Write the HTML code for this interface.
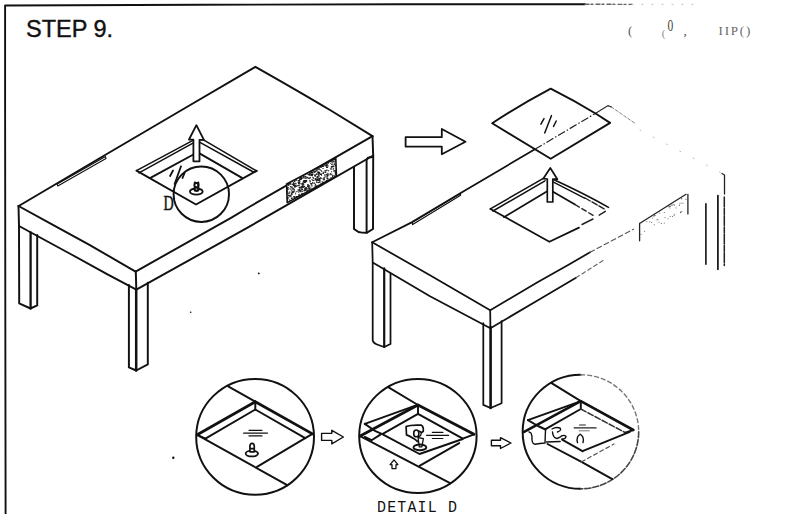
<!DOCTYPE html>
<html><head><meta charset="utf-8">
<style>
html,body{margin:0;padding:0;background:#fff;width:787px;height:514px;overflow:hidden}
svg{display:block;position:absolute;left:0;top:0}
.t{font-family:"Liberation Sans",sans-serif}
</style></head><body>
<svg width="787" height="514" viewBox="0 0 787 514">

<!-- border -->
<g fill="none" stroke="#111" stroke-width="1.6" stroke-linecap="round" stroke-linejoin="round">
<polyline points="5.6,514 5.3,300 5.1,100 5.1,5.5 200,4.8 400,4.3 585,4.2" stroke-width="1.9"/>
<polyline points="585,4.2 632,4.4" stroke="#666" stroke-width="1.4" stroke-dasharray="4 2 2 3"/><polyline points="632,4.4 700,4.4" stroke="#bbb" stroke-width="1" stroke-dasharray="1 9"/>
</g>
<text x="26" y="37.2" class="t" font-size="23.5" fill="#111" stroke="#111" stroke-width="0.4">STEP 9.</text>

<!-- LEFT TABLE -->
<g fill="none" stroke="#111" stroke-width="1.95" stroke-linecap="round" stroke-linejoin="round">
<!-- top surface -->
<path d="M18.7,206 L100,158 L180,111 L255.4,66.8 Q300,92 330,110 L372.5,136.2"/>
<path d="M18.5,206 L52,224.3 L89,244.6 L135.6,271.6"/>
<path d="M135.6,271.6 L231,217.8 L250,206.5 L372.5,136.2"/>
<!-- slab -->
<path d="M18.5,206 L19,226 L70.5,254 L107.5,274.3 L136.3,289.6 L135.8,271.6"/>
<path d="M136.3,289.6 L246.7,228.2 L265.4,217.4 L373.2,155.5 L372.5,136.2"/>
<!-- left leg -->
<path d="M19,226 L19.2,303.4 L30.5,308.5 L37.2,305.4 L37.2,235"/>
<path d="M30.6,232.3 L30.6,308.5" stroke-width="2.3"/>
<!-- front leg -->
<path d="M128.9,285 L128.9,367.4 L136.2,370.5 L147.8,364.4 L147.8,282.6"/>
<path d="M136.2,289 L136.2,370.5" stroke-width="2.5"/>
<!-- right leg -->
<path d="M354,167.3 L354,229 Q358,232.5 362,232.6 L366.6,232.8 L373,229 L373.2,155.5"/>
<path d="M366.6,159.8 L366.6,232.8 M366.6,160 L368,157.6 L372.5,157"/>
<!-- slot -->
<path d="M57.2,184 L105.5,156.6 L106,158.6 L57.8,186 Z" stroke-width="1.1"/>
<!-- hole -->
<path d="M136.5,170.7 L196,204.5 L256.7,170.8"/>
<path d="M136.5,170.7 L193.4,140.2 M139,172.9 L193.4,142.8" stroke-width="1.5"/><path d="M150.9,177.6 L193.4,154.5"/>
<path d="M199.5,139.6 L203.5,139.8 L256.6,170.9 M199.5,142.2 L253.4,172" stroke-width="1.5"/><path d="M199.5,153.4 L242,177.9"/>
<!-- circle D -->
<circle cx="201.3" cy="194.2" r="27.7"/>
<ellipse cx="196.3" cy="191.6" rx="6.4" ry="3.1" stroke-width="1.8"/>
<path d="M194,182 L195,181.3 L196,182 L197.3,182 L198.4,181.3 L199.2,182.2 Q200,185 199.3,187 Q200.2,189 199,191.3 Q196.5,192.5 194,191.3 Q192.9,189 193.8,187 Q192.9,185 194,182 Z" fill="#111" stroke="none"/>
<ellipse cx="196.3" cy="185.1" rx="1" ry="1.2" fill="#fff" stroke="none"/>
<ellipse cx="196.5" cy="189" rx="0.8" ry="0.6" fill="#fff" stroke="none"/>
<path d="M170.1,176 L173,170.5 M174.6,184 L181,166.3 M184.6,172.8 L182.5,178" stroke-width="1.8"/>
</g>
<text transform="translate(163.5,209.7) scale(0.66,1)" font-family="Liberation Serif" font-size="21.4" fill="#111" stroke="#111" stroke-width="0.5">D</text>
<!-- velcro left -->
<clipPath id="vel"><path d="M286.6,184 L335.8,158.2 L336.4,176 L287.2,202.6 Z"/></clipPath><path d="M286.6,184 L335.8,158.2 L336.4,176 L287.2,202.6 Z" fill="#fff"/><g clip-path="url(#vel)" fill="#1a1a1a"><rect x="302.2" y="178.0" width="0.8" height="0.8"/><rect x="326.1" y="164.1" width="2.0" height="0.8"/><rect x="331.1" y="163.6" width="0.8" height="1.5"/><rect x="306.3" y="176.9" width="2.0" height="1.5"/><rect x="289.3" y="192.6" width="1.0" height="0.8"/><rect x="314.7" y="175.9" width="1.0" height="0.8"/><rect x="313.3" y="171.6" width="1.5" height="1.0"/><rect x="312.5" y="179.9" width="2.0" height="1.0"/><rect x="291.5" y="191.3" width="1.0" height="1.2"/><rect x="290.8" y="194.3" width="2.0" height="0.8"/><rect x="316.4" y="176.3" width="2.0" height="1.5"/><rect x="324.4" y="171.7" width="1.5" height="1.2"/><rect x="301.3" y="190.5" width="1.0" height="0.8"/><rect x="314.6" y="178.0" width="1.2" height="1.5"/><rect x="301.0" y="193.8" width="0.8" height="1.5"/><rect x="294.2" y="185.3" width="1.5" height="1.5"/><rect x="287.9" y="194.8" width="2.0" height="1.2"/><rect x="302.8" y="180.9" width="1.5" height="1.5"/><rect x="289.4" y="183.2" width="1.2" height="1.5"/><rect x="320.3" y="166.4" width="1.2" height="1.5"/><rect x="300.2" y="183.3" width="1.2" height="0.8"/><rect x="332.1" y="165.7" width="2.0" height="0.8"/><rect x="310.4" y="174.7" width="1.2" height="1.0"/><rect x="322.4" y="171.7" width="1.5" height="0.8"/><rect x="294.4" y="186.6" width="1.2" height="1.0"/><rect x="326.8" y="177.6" width="1.2" height="1.5"/><rect x="334.8" y="170.2" width="1.5" height="1.0"/><rect x="293.6" y="182.9" width="1.0" height="1.0"/><rect x="287.2" y="198.5" width="1.0" height="1.2"/><rect x="299.6" y="178.8" width="2.0" height="1.2"/><rect x="316.3" y="173.6" width="1.0" height="0.8"/><rect x="308.6" y="187.4" width="2.0" height="1.5"/><rect x="305.7" y="180.2" width="1.5" height="1.5"/><rect x="289.2" y="182.9" width="1.0" height="1.5"/><rect x="294.4" y="185.7" width="0.8" height="0.8"/><rect x="286.3" y="186.2" width="0.8" height="1.2"/><rect x="316.3" y="168.7" width="1.0" height="1.5"/><rect x="293.5" y="184.2" width="1.2" height="1.2"/><rect x="309.2" y="173.1" width="1.5" height="1.5"/><rect x="309.9" y="176.9" width="1.0" height="0.8"/><rect x="323.2" y="177.5" width="1.5" height="1.0"/><rect x="311.1" y="173.8" width="2.0" height="1.2"/><rect x="293.7" y="189.7" width="0.8" height="1.2"/><rect x="334.7" y="173.5" width="1.2" height="1.2"/><rect x="331.0" y="166.3" width="1.0" height="1.2"/><rect x="317.8" y="178.2" width="1.0" height="1.0"/><rect x="326.8" y="175.7" width="1.0" height="1.0"/><rect x="311.9" y="176.7" width="0.8" height="0.8"/><rect x="325.3" y="171.5" width="1.0" height="1.2"/><rect x="308.6" y="189.0" width="1.2" height="1.2"/><rect x="289.9" y="183.3" width="1.5" height="1.0"/><rect x="302.5" y="183.7" width="2.0" height="0.8"/><rect x="310.2" y="183.1" width="0.8" height="0.8"/><rect x="331.3" y="173.8" width="1.0" height="1.5"/><rect x="330.0" y="168.4" width="1.2" height="0.8"/><rect x="325.8" y="180.0" width="1.5" height="1.5"/><rect x="306.4" y="190.5" width="1.0" height="1.0"/><rect x="334.5" y="158.1" width="2.0" height="1.5"/><rect x="325.4" y="165.1" width="2.0" height="1.5"/><rect x="318.1" y="172.9" width="2.0" height="1.0"/><rect x="287.7" y="197.8" width="0.8" height="1.0"/><rect x="308.0" y="188.3" width="1.0" height="0.8"/><rect x="298.7" y="182.3" width="1.0" height="1.2"/><rect x="299.1" y="184.6" width="1.0" height="0.8"/><rect x="330.8" y="166.1" width="1.5" height="1.5"/><rect x="327.3" y="177.9" width="1.0" height="1.0"/><rect x="311.6" y="170.3" width="1.5" height="1.0"/><rect x="316.5" y="181.9" width="1.0" height="1.0"/><rect x="293.5" y="191.4" width="0.8" height="0.8"/><rect x="301.9" y="184.3" width="2.0" height="1.5"/><rect x="324.2" y="165.3" width="2.0" height="0.8"/><rect x="298.6" y="181.9" width="0.8" height="1.5"/><rect x="314.3" y="182.6" width="0.8" height="1.5"/><rect x="302.2" y="193.0" width="2.0" height="1.0"/><rect x="320.0" y="173.5" width="2.0" height="1.5"/><rect x="310.7" y="174.8" width="2.0" height="1.2"/><rect x="332.0" y="175.4" width="1.0" height="1.5"/><rect x="292.7" y="182.1" width="1.5" height="1.2"/><rect x="289.9" y="186.1" width="0.8" height="1.0"/><rect x="319.5" y="180.3" width="1.0" height="1.2"/><rect x="293.4" y="196.1" width="1.5" height="1.0"/><rect x="322.6" y="165.9" width="1.5" height="1.0"/><rect x="335.3" y="172.5" width="1.0" height="1.5"/><rect x="335.0" y="165.0" width="1.5" height="1.0"/><rect x="303.6" y="176.1" width="1.2" height="0.8"/><rect x="303.1" y="182.9" width="0.8" height="1.5"/><rect x="302.3" y="186.5" width="2.0" height="0.8"/><rect x="292.2" y="197.7" width="1.0" height="0.8"/><rect x="290.4" y="186.3" width="1.0" height="1.2"/><rect x="323.7" y="178.5" width="1.2" height="1.5"/><rect x="293.5" y="196.4" width="2.0" height="1.5"/><rect x="320.7" y="167.0" width="0.8" height="1.0"/><rect x="307.2" y="173.9" width="0.8" height="0.8"/><rect x="325.6" y="164.4" width="1.0" height="0.8"/><rect x="299.3" y="178.8" width="0.8" height="1.2"/><rect x="335.2" y="165.3" width="1.2" height="1.0"/><rect x="288.8" y="195.6" width="0.8" height="1.0"/><rect x="299.0" y="180.0" width="1.2" height="1.2"/><rect x="312.1" y="173.5" width="1.5" height="1.0"/><rect x="299.8" y="191.4" width="1.2" height="0.8"/><rect x="286.8" y="196.7" width="2.0" height="1.0"/><rect x="311.3" y="174.8" width="1.5" height="0.8"/><rect x="318.6" y="178.0" width="1.5" height="1.5"/><rect x="334.0" y="164.0" width="1.0" height="1.0"/><rect x="303.5" y="189.7" width="1.0" height="1.5"/><rect x="335.4" y="175.6" width="1.0" height="0.8"/><rect x="289.9" y="195.2" width="1.2" height="1.5"/><rect x="293.9" y="180.7" width="1.5" height="1.2"/><rect x="316.1" y="180.4" width="0.8" height="1.5"/><rect x="295.5" y="183.6" width="0.8" height="1.2"/><rect x="303.7" y="180.0" width="2.0" height="1.2"/><rect x="298.6" y="195.0" width="1.2" height="1.0"/><rect x="303.4" y="174.4" width="1.5" height="0.8"/><rect x="309.8" y="180.4" width="1.0" height="1.0"/><rect x="310.8" y="170.7" width="1.2" height="0.8"/><rect x="293.3" y="190.7" width="1.5" height="0.8"/><rect x="301.3" y="187.3" width="0.8" height="1.0"/><rect x="318.4" y="179.2" width="2.0" height="1.5"/><rect x="323.9" y="176.7" width="1.5" height="1.0"/><rect x="300.5" y="187.6" width="1.0" height="0.8"/><rect x="326.6" y="174.8" width="2.0" height="1.5"/><rect x="322.7" y="179.3" width="1.0" height="0.8"/><rect x="327.1" y="172.8" width="1.0" height="0.8"/><rect x="287.6" y="185.3" width="1.2" height="0.8"/><rect x="305.0" y="182.1" width="0.8" height="0.8"/><rect x="317.1" y="179.6" width="1.5" height="1.2"/><rect x="286.2" y="198.3" width="2.0" height="0.8"/><rect x="318.3" y="167.6" width="1.5" height="1.2"/><rect x="326.4" y="177.8" width="1.0" height="1.0"/><rect x="297.6" y="189.3" width="1.5" height="1.5"/><rect x="327.6" y="163.2" width="1.2" height="0.8"/><rect x="316.9" y="179.2" width="0.8" height="1.0"/><rect x="302.7" y="186.9" width="1.2" height="1.0"/><rect x="286.6" y="184.4" width="1.2" height="0.8"/><rect x="320.5" y="177.7" width="1.2" height="1.2"/><rect x="309.3" y="180.0" width="0.8" height="1.0"/><rect x="301.2" y="177.1" width="1.5" height="0.8"/><rect x="299.9" y="177.2" width="2.0" height="1.5"/><rect x="335.2" y="164.8" width="1.0" height="0.8"/><rect x="314.3" y="171.0" width="2.0" height="1.2"/><rect x="332.6" y="161.2" width="2.0" height="1.2"/><rect x="330.2" y="173.0" width="1.0" height="1.5"/><rect x="330.7" y="169.0" width="0.8" height="1.0"/><rect x="286.3" y="192.3" width="1.5" height="1.5"/><rect x="300.9" y="178.0" width="1.2" height="1.5"/><rect x="302.3" y="190.7" width="0.8" height="1.2"/><rect x="323.6" y="179.2" width="0.8" height="1.0"/><rect x="321.6" y="181.3" width="1.2" height="1.2"/><rect x="304.1" y="181.2" width="2.0" height="0.8"/><rect x="304.0" y="182.1" width="1.2" height="0.8"/><rect x="299.8" y="177.2" width="1.2" height="1.0"/><rect x="298.0" y="181.9" width="2.0" height="1.2"/><rect x="295.4" y="185.6" width="1.5" height="0.8"/><rect x="325.9" y="173.9" width="2.0" height="1.0"/><rect x="321.3" y="165.6" width="1.5" height="1.5"/><rect x="316.3" y="169.9" width="1.2" height="1.5"/><rect x="289.1" y="199.4" width="1.0" height="1.0"/><rect x="309.4" y="177.5" width="1.2" height="1.2"/><rect x="322.9" y="181.8" width="1.2" height="1.5"/><rect x="318.1" y="171.8" width="2.0" height="1.5"/><rect x="292.5" y="192.3" width="0.8" height="1.0"/><rect x="310.7" y="185.4" width="2.0" height="1.0"/><rect x="308.3" y="177.6" width="1.5" height="1.5"/><rect x="293.2" y="183.5" width="0.8" height="1.0"/><rect x="303.0" y="176.2" width="1.0" height="1.2"/><rect x="299.3" y="187.1" width="0.8" height="1.5"/><rect x="305.4" y="187.0" width="1.0" height="1.5"/><rect x="299.6" y="190.3" width="1.5" height="1.2"/><rect x="314.1" y="175.2" width="2.0" height="1.0"/><rect x="290.9" y="197.5" width="1.5" height="1.5"/><rect x="318.0" y="174.7" width="1.2" height="0.8"/><rect x="292.4" y="187.8" width="1.5" height="1.5"/><rect x="285.8" y="190.5" width="2.0" height="1.5"/><rect x="334.2" y="162.8" width="0.8" height="1.0"/><rect x="294.1" y="188.9" width="0.8" height="1.5"/><rect x="290.8" y="195.7" width="0.8" height="1.0"/><rect x="298.0" y="194.4" width="1.2" height="1.0"/><rect x="317.0" y="177.0" width="1.5" height="0.8"/><rect x="290.7" y="186.5" width="2.0" height="1.0"/><rect x="304.8" y="177.7" width="2.0" height="0.8"/><rect x="286.5" y="188.7" width="1.5" height="1.2"/><rect x="333.7" y="170.0" width="1.0" height="1.5"/><rect x="312.4" y="179.6" width="0.8" height="1.5"/><rect x="321.1" y="170.9" width="0.8" height="1.0"/><rect x="310.8" y="183.0" width="1.5" height="0.8"/><rect x="299.1" y="189.1" width="1.2" height="1.0"/><rect x="310.5" y="183.3" width="1.5" height="1.2"/><rect x="319.7" y="169.6" width="1.2" height="0.8"/><rect x="296.7" y="196.1" width="1.2" height="1.0"/><rect x="297.5" y="181.7" width="1.2" height="0.8"/><rect x="333.2" y="167.8" width="1.0" height="1.0"/><rect x="310.6" y="187.6" width="0.8" height="1.0"/><rect x="331.6" y="160.7" width="0.8" height="1.0"/><rect x="307.0" y="185.5" width="1.0" height="1.5"/><rect x="308.5" y="185.0" width="1.2" height="0.8"/><rect x="335.6" y="174.3" width="1.2" height="1.0"/><rect x="295.5" y="196.1" width="1.5" height="0.8"/><rect x="301.8" y="188.7" width="1.2" height="1.2"/><rect x="308.0" y="174.0" width="0.8" height="1.2"/><rect x="290.4" y="189.2" width="0.8" height="1.0"/><rect x="305.2" y="187.5" width="1.2" height="1.5"/><rect x="290.8" y="194.2" width="1.0" height="1.2"/><rect x="312.9" y="177.5" width="1.2" height="1.2"/><rect x="322.4" y="173.0" width="1.5" height="1.0"/><rect x="326.6" y="176.1" width="0.8" height="1.5"/><rect x="288.0" y="183.7" width="0.8" height="1.2"/><rect x="295.2" y="179.5" width="2.0" height="1.2"/><rect x="303.7" y="180.4" width="2.0" height="0.8"/><rect x="299.3" y="189.8" width="1.2" height="1.2"/><rect x="300.7" y="189.2" width="2.0" height="0.8"/><rect x="287.2" y="187.0" width="1.5" height="1.5"/><rect x="333.2" y="165.5" width="1.2" height="1.5"/><rect x="326.0" y="164.9" width="1.5" height="1.0"/><rect x="287.0" y="200.6" width="1.2" height="1.0"/><rect x="316.1" y="173.5" width="1.2" height="1.5"/><rect x="304.5" y="188.5" width="0.8" height="1.0"/><rect x="305.2" y="176.4" width="1.5" height="0.8"/><rect x="317.8" y="175.4" width="2.0" height="1.2"/><rect x="294.4" y="187.3" width="0.8" height="0.8"/><rect x="299.3" y="178.0" width="0.8" height="1.5"/><rect x="310.8" y="183.6" width="1.5" height="1.0"/><rect x="297.4" y="185.1" width="2.0" height="1.0"/><rect x="323.5" y="179.3" width="0.8" height="1.2"/><rect x="300.8" y="186.2" width="1.2" height="1.2"/><rect x="322.5" y="168.0" width="1.0" height="1.0"/><rect x="297.8" y="180.0" width="2.0" height="1.0"/><rect x="302.4" y="182.3" width="1.0" height="1.0"/><rect x="317.9" y="168.7" width="1.5" height="0.8"/><rect x="291.4" y="189.4" width="1.0" height="1.5"/><rect x="331.0" y="160.6" width="1.2" height="1.0"/><rect x="291.6" y="183.9" width="2.0" height="1.0"/><rect x="332.1" y="165.9" width="1.0" height="1.5"/><rect x="316.3" y="182.1" width="0.8" height="0.8"/><rect x="317.8" y="179.9" width="1.2" height="1.0"/><rect x="288.2" y="188.8" width="0.8" height="1.0"/><rect x="335.3" y="158.5" width="1.0" height="0.8"/><rect x="326.5" y="169.7" width="1.2" height="1.0"/><rect x="316.8" y="168.6" width="0.8" height="1.5"/><rect x="313.2" y="170.3" width="0.8" height="1.5"/><rect x="318.4" y="169.3" width="2.0" height="0.8"/><rect x="318.4" y="173.6" width="1.2" height="1.5"/><rect x="334.9" y="170.0" width="1.5" height="0.8"/><rect x="301.7" y="185.6" width="1.2" height="1.5"/><rect x="307.0" y="188.5" width="1.2" height="1.0"/><rect x="305.7" y="180.6" width="0.8" height="1.5"/><rect x="330.8" y="167.6" width="0.8" height="1.5"/><rect x="314.7" y="175.2" width="1.0" height="1.0"/><rect x="286.9" y="193.5" width="1.5" height="0.8"/><rect x="314.3" y="185.5" width="2.0" height="1.0"/><rect x="292.9" y="185.0" width="2.0" height="1.0"/><rect x="331.4" y="161.6" width="1.5" height="1.0"/><rect x="301.5" y="190.8" width="0.8" height="1.5"/><rect x="301.7" y="186.6" width="1.5" height="0.8"/><rect x="331.0" y="171.3" width="1.0" height="1.0"/><rect x="317.0" y="178.4" width="1.0" height="1.5"/><rect x="295.0" y="182.8" width="1.5" height="1.0"/><rect x="305.0" y="175.9" width="1.0" height="1.0"/><rect x="288.6" y="192.8" width="0.8" height="1.2"/><rect x="291.8" y="191.5" width="2.0" height="1.2"/><rect x="318.2" y="172.1" width="1.0" height="1.5"/><rect x="305.0" y="179.9" width="2.0" height="1.5"/><rect x="294.6" y="178.7" width="1.5" height="1.5"/><rect x="297.9" y="191.5" width="1.5" height="1.0"/><rect x="326.3" y="169.8" width="0.8" height="1.0"/><rect x="303.7" y="181.0" width="1.5" height="0.8"/><rect x="288.1" y="185.0" width="1.2" height="0.8"/><rect x="288.8" y="191.5" width="1.5" height="1.0"/><rect x="286.9" y="184.2" width="2.0" height="0.8"/><rect x="296.0" y="196.5" width="1.5" height="1.2"/><rect x="333.7" y="175.2" width="1.0" height="1.0"/><rect x="289.4" y="188.3" width="1.2" height="1.0"/><rect x="302.2" y="186.4" width="1.5" height="1.0"/><rect x="298.9" y="194.7" width="1.5" height="1.0"/><rect x="315.6" y="179.3" width="1.0" height="1.2"/><rect x="304.3" y="177.5" width="1.5" height="1.0"/><rect x="317.5" y="171.9" width="1.2" height="1.5"/><rect x="295.0" y="193.7" width="0.8" height="0.8"/><rect x="317.4" y="173.7" width="1.5" height="0.8"/><rect x="298.6" y="186.8" width="1.5" height="1.2"/><rect x="299.2" y="194.9" width="2.0" height="1.0"/><rect x="304.0" y="188.2" width="1.5" height="1.0"/><rect x="295.3" y="192.6" width="0.8" height="1.2"/><rect x="326.1" y="166.8" width="2.0" height="1.2"/><rect x="322.6" y="178.0" width="1.0" height="1.0"/><rect x="300.5" y="187.4" width="1.5" height="1.2"/><rect x="330.2" y="162.9" width="1.0" height="0.8"/><rect x="287.1" y="182.9" width="1.2" height="1.2"/><rect x="291.5" y="187.1" width="1.0" height="1.5"/><rect x="315.2" y="179.0" width="1.0" height="1.2"/><rect x="317.1" y="176.1" width="1.0" height="0.8"/><rect x="332.3" y="163.4" width="1.0" height="1.5"/><rect x="291.1" y="192.6" width="1.2" height="1.5"/><rect x="326.7" y="179.8" width="0.8" height="1.2"/><rect x="315.2" y="178.4" width="2.0" height="1.5"/><rect x="299.0" y="193.8" width="0.8" height="0.8"/><rect x="312.5" y="177.2" width="1.0" height="1.0"/><rect x="289.5" y="196.4" width="0.8" height="1.0"/><rect x="292.7" y="183.3" width="2.0" height="1.5"/><rect x="326.1" y="165.7" width="1.2" height="0.8"/><rect x="300.7" y="176.7" width="1.5" height="0.8"/><rect x="304.6" y="181.9" width="1.5" height="0.8"/><rect x="322.9" y="172.6" width="1.0" height="0.8"/><rect x="299.4" y="188.5" width="0.8" height="1.2"/><rect x="330.4" y="177.2" width="1.2" height="0.8"/><rect x="299.3" y="186.7" width="1.5" height="1.2"/><rect x="301.2" y="193.0" width="1.0" height="0.8"/><rect x="329.3" y="161.1" width="1.2" height="1.0"/><rect x="327.6" y="165.3" width="1.0" height="1.2"/><rect x="295.3" y="185.7" width="2.0" height="1.0"/><rect x="304.8" y="189.0" width="2.0" height="1.5"/><rect x="309.7" y="181.1" width="0.8" height="0.8"/><rect x="307.5" y="185.3" width="2.0" height="1.2"/><rect x="324.7" y="170.3" width="2.0" height="0.8"/><rect x="314.1" y="172.1" width="0.8" height="0.8"/><rect x="292.0" y="192.0" width="1.0" height="1.2"/><rect x="334.7" y="170.9" width="0.8" height="0.8"/><rect x="293.4" y="191.9" width="0.8" height="0.8"/><rect x="321.9" y="165.6" width="2.0" height="1.2"/><rect x="296.0" y="196.1" width="2.0" height="0.8"/><rect x="329.6" y="174.4" width="1.5" height="0.8"/><rect x="298.5" y="181.0" width="0.8" height="0.8"/><rect x="333.4" y="175.2" width="0.8" height="1.2"/><rect x="309.7" y="173.5" width="1.0" height="1.2"/><rect x="302.2" y="182.9" width="0.8" height="1.2"/><rect x="298.8" y="182.0" width="1.2" height="1.2"/><rect x="324.1" y="174.4" width="1.5" height="1.2"/><rect x="316.3" y="168.2" width="1.5" height="0.8"/><rect x="307.9" y="186.1" width="1.2" height="1.5"/><rect x="321.1" y="175.1" width="1.0" height="0.8"/><rect x="314.3" y="174.0" width="1.5" height="0.8"/><rect x="312.1" y="175.3" width="0.8" height="0.8"/><rect x="303.3" y="176.0" width="1.0" height="1.5"/><rect x="315.3" y="185.5" width="2.0" height="1.2"/><rect x="314.6" y="171.5" width="1.0" height="1.0"/><rect x="310.8" y="172.4" width="0.8" height="1.5"/><rect x="325.4" y="175.6" width="0.8" height="1.2"/><rect x="303.6" y="181.8" width="1.5" height="0.8"/><rect x="307.2" y="184.4" width="1.2" height="1.0"/><rect x="300.8" y="183.5" width="2.0" height="1.0"/><rect x="305.3" y="189.6" width="1.0" height="1.5"/><rect x="292.2" y="191.3" width="2.0" height="0.8"/><rect x="303.4" y="180.2" width="1.0" height="1.5"/><rect x="319.1" y="179.6" width="1.0" height="1.5"/><rect x="307.7" y="186.3" width="2.0" height="1.0"/><rect x="292.6" y="188.8" width="1.0" height="1.0"/><rect x="299.2" y="190.5" width="2.0" height="1.0"/><rect x="322.2" y="182.3" width="1.2" height="1.2"/><rect x="294.2" y="185.3" width="1.0" height="1.2"/><rect x="334.6" y="171.3" width="0.8" height="1.0"/><rect x="333.3" y="160.5" width="1.5" height="1.0"/><rect x="334.9" y="172.0" width="1.2" height="1.5"/><rect x="299.7" y="178.3" width="0.8" height="1.2"/><rect x="296.6" y="185.4" width="0.8" height="0.8"/><rect x="306.2" y="187.6" width="1.0" height="1.2"/><rect x="308.5" y="173.9" width="2.0" height="1.5"/><rect x="286.3" y="187.6" width="1.5" height="1.5"/><rect x="327.6" y="173.6" width="2.0" height="1.0"/><rect x="319.7" y="177.3" width="1.5" height="1.5"/><rect x="302.0" y="186.7" width="0.8" height="1.5"/><rect x="298.3" y="184.5" width="1.0" height="1.2"/><rect x="328.3" y="170.0" width="0.8" height="1.5"/><rect x="312.0" y="182.1" width="1.0" height="1.2"/><rect x="324.4" y="170.5" width="1.5" height="0.8"/><rect x="288.3" y="192.6" width="1.0" height="1.0"/><rect x="311.2" y="171.7" width="2.0" height="1.5"/><rect x="312.6" y="182.7" width="2.0" height="0.8"/><rect x="317.5" y="181.9" width="2.0" height="1.2"/><rect x="306.9" y="190.2" width="1.0" height="1.0"/><rect x="306.0" y="187.2" width="0.8" height="1.2"/><rect x="317.4" y="171.4" width="1.5" height="1.5"/><rect x="288.9" y="183.2" width="1.5" height="1.2"/><rect x="314.6" y="170.3" width="1.2" height="1.5"/><rect x="332.7" y="168.4" width="1.0" height="1.5"/><rect x="309.0" y="174.6" width="0.8" height="1.0"/><rect x="309.5" y="181.6" width="1.0" height="1.0"/><rect x="303.6" y="185.8" width="1.5" height="1.5"/><rect x="335.6" y="171.1" width="1.0" height="1.5"/><rect x="304.0" y="189.7" width="1.2" height="1.5"/><rect x="320.5" y="183.3" width="1.0" height="1.5"/><rect x="286.6" y="196.8" width="1.2" height="1.2"/><rect x="298.1" y="182.5" width="1.5" height="1.5"/><rect x="307.5" y="184.1" width="1.2" height="1.0"/><rect x="332.4" y="174.9" width="0.8" height="0.8"/><rect x="327.4" y="178.3" width="1.0" height="1.2"/><rect x="317.4" y="167.4" width="0.8" height="1.0"/><rect x="333.2" y="170.7" width="1.2" height="0.8"/><rect x="315.1" y="183.8" width="1.0" height="1.5"/><rect x="303.0" y="177.4" width="1.5" height="1.0"/><rect x="316.6" y="180.1" width="0.8" height="1.2"/><rect x="295.7" y="191.3" width="2.0" height="0.8"/><rect x="323.0" y="172.4" width="0.8" height="0.8"/><rect x="299.3" y="180.7" width="1.0" height="1.5"/><rect x="310.1" y="171.8" width="1.5" height="1.0"/><rect x="320.7" y="170.0" width="1.0" height="0.8"/><rect x="293.7" y="185.0" width="2.0" height="1.5"/><rect x="319.2" y="181.3" width="1.2" height="1.5"/><rect x="307.4" y="190.2" width="0.8" height="1.0"/><rect x="317.9" y="178.7" width="0.8" height="0.8"/><rect x="316.4" y="180.2" width="1.2" height="0.8"/><rect x="311.5" y="179.2" width="1.0" height="0.8"/></g><path d="M286.6,184 L335.8,158.2 L336.4,176 L287.2,202.6 Z" fill="none" stroke="#111" stroke-width="1.6" stroke-linejoin="round"/>
<!-- left arrow in hole -->
<path d="M196.4,125.2 L203.9,139.8 L199.5,139.8 L199.5,161.3 L193.4,161.3 L193.4,139.6 L189,139.5 Z" fill="#fff" stroke="#111" stroke-width="1.8" stroke-linejoin="round"/>

<!-- BIG ARROW -->
<path d="M405.6,137.2 L441.8,137.2 L441.8,129 L465.5,141.8 L441.8,154.2 L441.8,146.6 L405.6,146.6 Z" fill="#fff" stroke="#111" stroke-width="1.8" stroke-linejoin="round"/>

<!-- RIGHT TABLE -->
<g fill="none" stroke="#111" stroke-width="1.75" stroke-linecap="round" stroke-linejoin="round">
<path d="M372.2,242.3 L412.1,222.1 L460.7,192.9 L534.9,149.3"/>
<path d="M372.2,242.3 L430,275.2 L490.2,310.2 L537.5,282.2 L569,264.5 L590,252.3"/>
<path d="M372.2,242.3 L372.7,262.6 L430,296.2 L490.4,328.2 L490.2,310.2"/>
<path d="M490.4,328.2 L537.5,300.6 L576,277.7"/>
<!-- left leg -->
<path d="M372.7,262.6 L372.7,340.6 Q373.5,343.5 377,344.5 L384.2,347 L390.5,344 L390.5,273.5"/>
<path d="M384.2,268.3 L384.2,347" stroke-width="2.2"/>
<!-- front leg -->
<path d="M483.3,323 L483.3,404.9 L490.6,408 L501.6,403.3 L501.6,321"/>
<path d="M490.6,327 L490.6,408" stroke-width="2.6"/>
<!-- slot -->
<path d="M412.1,222.6 L460.4,193.5 L460.6,195.3 L412.6,224.6 Z" stroke-width="1.2"/>
<!-- hole -->
<path d="M490.4,208.9 L549.4,241.8 L579,227.6"/>
<path d="M490.4,208.9 L543.4,178.3 M493,211 L545,180.8" stroke-width="1.5"/><path d="M504,217.2 L547.2,191.3"/>
<path d="M553,179.3 Q585,194 608.5,207.4" stroke-width="1.6"/><path d="M553,181.9 L585,198.3" stroke-width="1.4"/>
<path d="M553,191.8 L575,204.5"/>
</g>
<!-- faded right part of right table -->
<g fill="none" stroke="#222" stroke-width="1.4" stroke-linecap="round">
<path d="M585,198 L605.4,209.7" stroke-dasharray="6 2"/>
<path d="M575,204.5 L595.3,216.7" stroke-dasharray="5 3"/>
<path d="M582,224.5 L593,219 M599.2,215.2 L605.4,211.3"/>

<path d="M590,252.3 L633.5,229.2" stroke-dasharray="5 3" stroke="#555" stroke-width="1.1"/>

<path d="M576,277.7 L605,259.3" stroke-dasharray="4 3" stroke="#666" stroke-width="1.1"/>
<path d="M534.9,149.3 L594.9,113.7" stroke-dasharray="6 2 1 2" stroke-width="1"/>
<path d="M594.9,113.7 L608,105.6 L611.4,107" stroke-width="1.2"/>
<path d="M611.4,107 L636,124" stroke-dasharray="3 2" stroke="#777" stroke-width="0.9"/>
<path d="M640,130 L722,173.5" stroke-dasharray="1 14" stroke="#bbb" stroke-width="1"/>
<path d="M722,173.5 L724.5,175 L724.5,194" stroke="#222" stroke-width="1.3"/>
<path d="M724.3,197 L724.3,265.5" stroke="#222" stroke-width="1.5" stroke-dasharray="10 1.5 6 1"/>
<path d="M717.9,195.6 L717.9,269.3" stroke="#111" stroke-width="1.7"/>
<path d="M705.9,203.7 L705.9,264.2" stroke="#111" stroke-width="1.6"/>
<path d="M639.6,223.5 L639.6,240.8 M687.9,194.3 L687.9,213.9 M639.6,223.5 L686,194.3" stroke="#222" stroke-width="1.3"/>
</g>
<g fill="#555"><rect x="651.2" y="222.1" width="0.9" height="0.9"/><rect x="657.4" y="219.2" width="0.9" height="0.9"/><rect x="669.4" y="205.7" width="0.9" height="0.9"/><rect x="640.6" y="233.9" width="0.9" height="0.9"/><rect x="652.2" y="217.7" width="0.9" height="0.9"/><rect x="686.8" y="198.7" width="0.9" height="0.9"/><rect x="679.3" y="203.5" width="0.9" height="0.9"/><rect x="670.0" y="205.8" width="0.9" height="0.9"/><rect x="669.8" y="216.1" width="0.9" height="0.9"/><rect x="664.6" y="217.0" width="0.9" height="0.9"/><rect x="671.6" y="204.4" width="0.9" height="0.9"/><rect x="675.6" y="207.5" width="0.9" height="0.9"/><rect x="654.2" y="215.2" width="0.9" height="0.9"/><rect x="680.7" y="202.6" width="0.9" height="0.9"/><rect x="673.8" y="213.9" width="0.9" height="0.9"/><rect x="673.6" y="214.9" width="0.9" height="0.9"/><rect x="658.6" y="221.9" width="0.9" height="0.9"/><rect x="660.9" y="223.1" width="0.9" height="0.9"/><rect x="681.3" y="198.4" width="0.9" height="0.9"/><rect x="646.4" y="221.2" width="0.9" height="0.9"/><rect x="685.4" y="199.1" width="0.9" height="0.9"/><rect x="669.5" y="207.5" width="0.9" height="0.9"/><rect x="663.8" y="212.0" width="0.9" height="0.9"/><rect x="656.5" y="219.4" width="0.9" height="0.9"/><rect x="667.5" y="218.3" width="0.9" height="0.9"/><rect x="672.1" y="216.0" width="0.9" height="0.9"/><rect x="680.3" y="212.1" width="0.9" height="0.9"/><rect x="671.5" y="204.9" width="0.9" height="0.9"/><rect x="680.4" y="211.4" width="0.9" height="0.9"/><rect x="682.5" y="202.8" width="0.9" height="0.9"/><rect x="673.5" y="204.1" width="0.9" height="0.9"/><rect x="679.1" y="205.1" width="0.9" height="0.9"/><rect x="653.4" y="215.8" width="0.9" height="0.9"/><rect x="680.1" y="212.2" width="0.9" height="0.9"/><rect x="644.2" y="230.9" width="0.9" height="0.9"/><rect x="659.3" y="212.6" width="0.9" height="0.9"/><rect x="653.8" y="224.3" width="0.9" height="0.9"/><rect x="681.0" y="198.3" width="0.9" height="0.9"/><rect x="668.9" y="206.0" width="0.9" height="0.9"/><rect x="673.8" y="205.1" width="0.9" height="0.9"/><rect x="681.4" y="211.2" width="0.9" height="0.9"/><rect x="663.8" y="222.7" width="0.9" height="0.9"/><rect x="654.6" y="215.1" width="0.9" height="0.9"/><rect x="668.2" y="206.4" width="0.9" height="0.9"/><rect x="649.3" y="221.4" width="0.9" height="0.9"/></g>
<!-- right arrow -->
<path d="M550.3,168 L557.4,179.2 L552.8,179.2 L552.8,202 L547.3,202 L547.3,179 L543.2,178.7 Z" fill="#fff" stroke="#111" stroke-width="1.7" stroke-linejoin="round"/>
<!-- glass -->
<path d="M492.2,123.3 Q520,105 550.7,88.7 Q575,101 596,113.8 L610.1,122.9 L550.7,158.8 Z" fill="#fff" stroke="#111" stroke-width="1.9" stroke-linejoin="round"/>
<path d="M534.9,149.3 L594.9,113.7" fill="none" stroke="#222" stroke-width="1.2" stroke-dasharray="8 2 1.5 2"/>
<path d="M540.9,124.1 L544,118.6 M544.7,132.9 L551.5,115.6 M553.5,126.5 L556.2,121" fill="none" stroke="#111" stroke-width="1.5" stroke-linecap="round"/>

<!-- DETAIL CIRCLES -->
<g fill="none" stroke="#111" stroke-width="1.95" stroke-linecap="round" stroke-linejoin="round">
<!-- C1 -->
<ellipse cx="255.1" cy="436.85" rx="58.9" ry="57.95" stroke-width="2"/>
<path d="M228.2,386.3 L255.3,401.7"/>
<path d="M255.3,401.7 L312.5,433.9 M197.2,434.8 L255.3,401.7" stroke-width="2.8"/>
<path d="M197.2,434.8 L205.4,438.7 L255.3,409.5 L305.2,438.2 L312.5,433.9"/>
<path d="M255.3,401.7 L255.3,409.5"/>
<path d="M305.2,438.2 L257,466.8"/>
<path d="M197.2,434.8 L287.2,485.2"/>
<path d="M249,430.3 L262,430.3 M243.6,433.1 L267.5,433.1 M249,435.9 L262,435.9" stroke-width="1.2"/>
<ellipse cx="251.85" cy="453.55" rx="6.2" ry="2.9" stroke-width="1.8"/>
<path d="M250,451.8 L249.9,446.5 Q250,443.3 252.1,443.3 Q254.2,443.3 254.3,446.5 L254.2,451.8 Z M250,448.7 L254.2,448.7" fill="#fff" stroke-width="1.7"/>
<!-- C2 -->
<ellipse cx="417.9" cy="435.9" rx="58.7" ry="57" stroke-width="2"/>
<path d="M388.6,387.3 L418,405"/>
<path d="M418,405 L474,434.3 M360.2,436.1 L418,405" stroke-width="2.8"/>
<path d="M364.8,423.9 L416.8,405.1"/>
<path d="M364.8,423.9 L375.5,431.2 L382.3,434.1 L419.5,454 L462.7,439"/>
<path d="M382.3,434.1 L418,413.8 L462.8,438.7 L474,434.3"/>
<path d="M418,405 L418,413.8"/>
<path d="M459.2,443.1 L419.5,465.9"/>
<path d="M360.2,436.1 L450.1,483.2"/>
<path d="M364.8,437 L371.6,440.2 L380.4,434.6"/>
<path d="M394,459.9 L397.9,464.7 L396,464.7 L396,468.6 L392,468.6 L392,464.7 L390.1,464.7 Z" stroke-width="1.3"/>
<path d="M406.1,426.6 C409,425.3 415,424.9 421.3,425.2 C423.2,426.2 423.6,429 423.2,431.6 L421.5,432.5 M406.1,426.6 L406.5,434.9 Q410,436.3 413.5,438.4 Q415.8,440 417.5,441.5" stroke-width="1.7"/>
<ellipse cx="416.3" cy="433.4" rx="2.6" ry="3.4" stroke-width="1.6"/>
<path d="M418.5,431.3 Q421,431 421.3,433.4 Q421,436 419,436.5 M418,437.5 L423.4,438.6 L421.8,446.8 L419.3,446.8 Z" stroke-width="1.3"/>
<ellipse cx="419.9" cy="447.4" rx="6.4" ry="2.9" stroke-width="1.9"/>
<path d="M432.4,432.4 L442.9,432.4 M426.5,435.3 L448.7,435.3 M432.4,438.5 L442.9,438.5" stroke-width="1.2"/>
<!-- C3 -->
<path d="M580.7,374.7 A58,57.05 0 1 0 580.7,488.8" stroke-width="2"/>
<path d="M580.7,374.7 A58,57.05 0 0 1 638.7,431.75" stroke="#777" stroke-width="1.4" stroke-dasharray="4 3"/><path d="M638.7,431.75 A58,57.05 0 0 1 580.7,488.8" stroke="#444" stroke-width="1.6" stroke-dasharray="6 2"/>
<path d="M551.2,382.8 L580.8,401.1"/>
<path d="M580.8,401.1 L633.3,430 M524.1,431.9 L580.3,401.4" stroke-width="2.6"/>
<path d="M527.9,420.1 L580.3,401.4"/>
<path d="M527.9,420.1 L538,426 L545.5,429.5"/>
<path d="M545.5,429.2 L580.8,409 L580.8,401.1"/>
<path d="M580.8,409 L625.5,432.7" stroke="#333" stroke-width="1.5" stroke-dasharray="6 2"/>
<path d="M625.5,432.7 L633.3,430 M629.8,431.8 L582.5,451.2"/>
<path d="M547.5,444 L581.5,461.9 L612.3,479.1"/>
<path d="M581.5,461.9 L614,444" stroke="#555" stroke-width="1.2" stroke-dasharray="4 3"/>
<path d="M529,431.9 L531,433 Q532.5,436 532,440 Q532.5,444 535,444.3 Q540,443.5 545,443 L545.5,430" stroke-width="1.4"/>
<path d="M546.5,442 L560.1,441.5" stroke-width="1.5"/><path d="M562.1,439.6 L582.5,451.2" stroke-width="1.9"/>
<path d="M552,429 Q556,426.5 560,428 Q562,430.5 557.5,432 M552.5,432 Q553,438 557,438.5 Q560,437.5 561.5,436 Q564.5,434.5 566,436.5 Q565.5,439.5 562,439" stroke-width="1.4"/>
<path d="M579.6,425 L585.4,425 M574.2,427.9 L596.1,427.9" stroke="#222" stroke-width="1.2"/><path d="M579.1,430.8 L589.3,430.8" stroke="#777" stroke-width="1"/>
<path d="M577.5,442.6 L577,440 Q577.2,436.5 578.6,435.5 L580.2,434.3 L581.8,435.5 Q583.4,437 583.4,440 L583,442.6" stroke-width="1.4"/>
</g>
<!-- small arrows -->
<g fill="#fff" stroke="#111" stroke-width="1.4" stroke-linejoin="round">
<path d="M321.6,433.4 L331.8,433.4 L331.8,430.3 L343.4,437 L331.8,443.9 L331.8,440.4 L321.6,440.4 Z"/>
<path d="M491.4,440.2 L500.5,440.2 L500.5,437.6 L511,443 L500.5,448.5 L500.5,445.8 L491.4,445.8 Z"/>
</g>
<text transform="translate(377,511.6) scale(0.9,1)" font-family="Liberation Mono" font-size="16.6" fill="#111" letter-spacing="1.3" >DETAIL D</text>
<!-- faded header text -->
<g font-family="Liberation Serif" fill="#555" font-size="13">
<text x="628" y="34.5">(</text>
<text x="661.8" y="37" font-size="11" fill="#888">(</text>
<text transform="translate(667.5,31) scale(0.72,1)" font-size="16" fill="#444">0</text>
<text x="683.5" y="35" fill="#444">,</text>
<text x="718.5" y="35" letter-spacing="1.8" fill="#666">IIP()</text>
</g>
<g fill="#111">
<circle cx="258.8" cy="273.4" r="0.9"/>
<circle cx="190.7" cy="312.3" r="0.8"/>
<circle cx="173.3" cy="457.7" r="1.2"/>
</g>
</svg>
</body></html>
